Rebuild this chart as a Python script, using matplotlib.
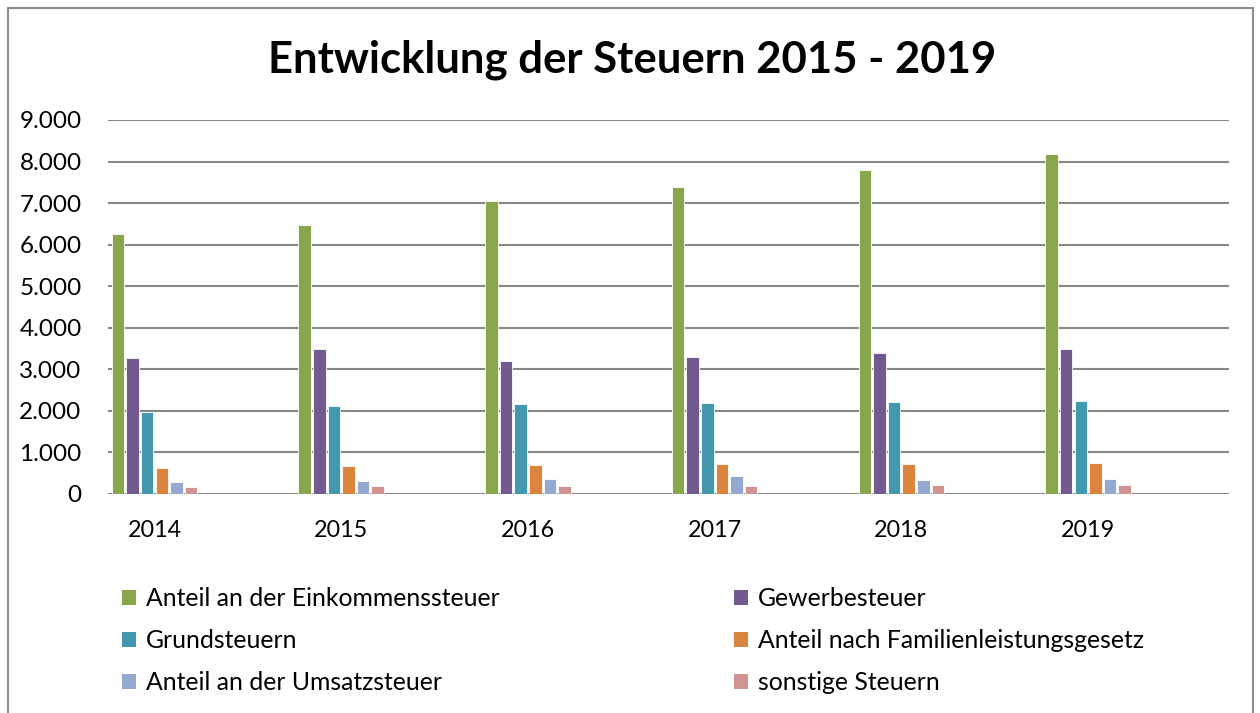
import matplotlib
matplotlib.use("Agg")
import matplotlib.pyplot as plt
from matplotlib.patches import Rectangle, Patch
from matplotlib.ticker import FuncFormatter, MultipleLocator
import numpy as np

years = ["2014", "2015", "2016", "2017", "2018", "2019"]
series_names = [
    "Anteil an der Einkommenssteuer",
    "Gewerbesteuer",
    "Grundsteuern",
    "Anteil nach Familienleistungsgesetz",
    "Anteil an der Umsatzsteuer",
    "sonstige Steuern",
]
einkommen = [6250, 6480, 7060, 7390, 7790, 8170]
gewerbe = [3270, 3490, 3200, 3300, 3390, 3480]
grund = [1980, 2110, 2160, 2180, 2210, 2240]
familien = [625, 665, 690, 710, 730, 750]
umsatz = [280, 305, 350, 440, 335, 350]
sonstige = [160, 185, 185, 190, 205, 210]
values = [einkommen, gewerbe, grund, familien, umsatz, sonstige]
colors = ["#8AA64D", "#725990", "#4198AF", "#DB843D", "#93A9CF", "#D19392"]

plt.rcParams['font.family'] = ['Lato', 'DejaVu Sans']

W, H = 1260, 713
fig = plt.figure(figsize=(W / 100, H / 100), dpi=100)
fig.patch.set_facecolor("white")

# chart border
fig.add_artist(Rectangle((8 / W, -0.05), (1253 - 8) / W, 1.05 - 8 / H,
                         transform=fig.transFigure, fill=False,
                         edgecolor="#8C8C8C", linewidth=1.5))

ax = fig.add_axes([108 / W, 1 - 494 / H, (1228.7 - 108) / W, (494 - 120) / H])
x = np.arange(len(years))
step = 0.0782
for j, (vals, c, name) in enumerate(zip(values, colors, series_names)):
    ax.bar(x + (j - 2.5) * step, vals, width=step * 0.86, color=c,
           edgecolor="white", linewidth=0.6, label=name, zorder=3)

ax.set_xlim(-0.249, 5.753)
ax.set_ylim(0, 9000)
ax.yaxis.set_major_locator(MultipleLocator(1000))
ax.yaxis.set_major_formatter(FuncFormatter(lambda v, p: f"{int(v):,}".replace(",", ".")))
ax.grid(axis="y", color="#878787", linewidth=1.5, zorder=0)
ax.set_axisbelow(True)
for s in ax.spines.values():
    s.set_visible(False)
ax.set_xticks(x)
ax.set_xticklabels(years)
ax.tick_params(axis="both", length=0, colors="black")
ax.tick_params(axis="y", pad=19, labelsize=17.5)
ax.tick_params(axis="x", pad=19, labelsize=16.8)

fig.text(632 / W, 1 - 60 / H, "Entwicklung der Steuern 2015 - 2019",
         ha="center", va="center", fontsize=31.4, fontweight="bold")

handles = [Patch(facecolor=c, edgecolor="none") for c in colors]
kw = dict(frameon=False, fontsize=17.8, handlelength=0.57, handleheight=0.57,
          handletextpad=0.4, labelspacing=0.77, loc="upper left",
          borderpad=0, borderaxespad=0)
leg1 = fig.legend([handles[i] for i in (0, 2, 4)], [series_names[i] for i in (0, 2, 4)],
                  bbox_to_anchor=(122 / W, 1 - 587 / H), **kw)
leg2 = fig.legend([handles[i] for i in (1, 3, 5)], [series_names[i] for i in (1, 3, 5)],
                  bbox_to_anchor=(734 / W, 1 - 587 / H), **kw)

fig.savefig("out.png", dpi=100)
